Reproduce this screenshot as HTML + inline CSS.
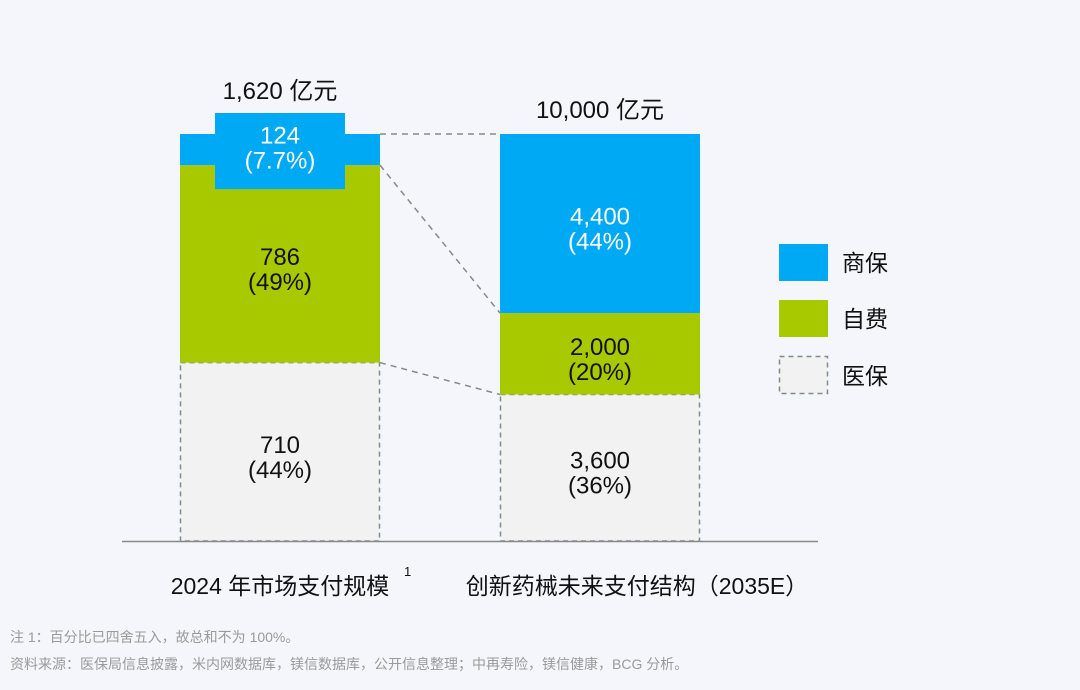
<!DOCTYPE html>
<html><head><meta charset="utf-8">
<style>
html,body{margin:0;padding:0;background:#f4f6fb;}
svg{display:block;font-family:"Liberation Sans","Noto Sans CJK SC",sans-serif;}
</style></head>
<body>
<svg id="chart" width="1080" height="690" viewBox="0 0 1080 690">
  <rect width="1080" height="690" fill="#f4f6fb"/>
  <g id="bars"></g>
  <line x1="122" y1="541.5" x2="818" y2="541.5" stroke="#888" stroke-width="1.5"/>
  <text x="280" y="594" text-anchor="middle" font-size="23" fill="#111">2024 年市场支付规模</text>
  <text x="404" y="576" font-size="13" fill="#111">1</text>
  <text x="637" y="594" text-anchor="middle" font-size="23" fill="#111">创新药械未来支付结构（2035E）</text>
  <g>
    <rect x="779" y="244" width="49" height="37" fill="#00a9f4"/>
    <text x="842" y="271" font-size="23" fill="#111">商保</text>
    <rect x="779" y="300" width="49" height="37" fill="#a8c800"/>
    <text x="842" y="327" font-size="23" fill="#111">自费</text>
    <rect x="779.5" y="356.5" width="48" height="37" fill="#f2f2f2" stroke="#888" stroke-width="1.5" stroke-dasharray="5,4"/>
    <text x="842" y="384" font-size="23" fill="#111">医保</text>
  </g>
  <text x="10" y="642" font-size="14" fill="#9a9a9a">注 1：百分比已四舍五入，故总和不为 100%。</text>
  <text x="10" y="669" font-size="14" fill="#9a9a9a">资料来源：医保局信息披露，米内网数据库，镁信数据库，公开信息整理；中再寿险，镁信健康，BCG 分析。</text>
</svg>
<script>
const categories = ["2024 年市场支付规模", "创新药械未来支付结构（2035E）"];
const totals = ["1,620 亿元", "10,000 亿元"];
const medicalValues = [710, 3600];
const selfPayValues = [786, 2000];
const commercialValues = [124, 4400];
const medicalLabels = ["710", "3,600"];
const medicalPct = ["(44%)", "(36%)"];
const selfPayLabels = ["786", "2,000"];
const selfPayPct = ["(49%)", "(20%)"];
const commercialLabels = ["124", "4,400"];
const commercialPct = ["(7.7%)", "(44%)"];

const NS = "http://www.w3.org/2000/svg";
const g = document.getElementById("bars");
const baseY = 541, barH = 407, barW = 200;
const barX = [180, 500];
function mk(tag, attrs, parent) {
  const e = document.createElementNS(NS, tag);
  for (const k in attrs) e.setAttribute(k, attrs[k]);
  (parent || g).appendChild(e);
  return e;
}
function yScale(i, v) {
  const total = medicalValues[i] + selfPayValues[i] + commercialValues[i];
  return v / total * barH;
}
function label(x, y, t1, t2, color, name) {
  const a = mk("text", {x: x, y: y, "text-anchor": "middle", "font-size": 24, fill: color});
  a.textContent = t1;
  
  
  const b = mk("text", {x: x, y: y + 25, "text-anchor": "middle", "font-size": 24, fill: color});
  b.textContent = t2;
  
  
}
const tops = [];
for (let i = 0; i < 2; i++) {
  const x = barX[i], cx = x + barW / 2;
  const hM = yScale(i, medicalValues[i]);
  const hS = yScale(i, selfPayValues[i]);
  const hC = yScale(i, commercialValues[i]);
  const yM = baseY - hM, yS = yM - hS, yC = yS - hC;
  tops.push({yM: yM, yS: yS, yC: yC});
  const m = mk("rect", {x: x + 0.5, y: yM, width: barW - 1, height: hM, fill: "#f2f2f2", stroke: "#888", "stroke-width": 1.5, "stroke-dasharray": "5,4"});
  
  
  const s = mk("rect", {x: x, y: yS, width: barW, height: hS, fill: "#a8c800"});
  
  
  const c = mk("rect", {x: x, y: yC, width: barW, height: hC, fill: "#00a9f4"});
  
  
  let totalY = yC - 16;
  if (hC < 60) {
    const tab = mk("rect", {x: x + 35, y: yC - 21, width: barW - 70, height: hC + 45, fill: "#00a9f4"});
    
    
    totalY = yC - 35;
    label(cx, yC + hC / 2 - 6, commercialLabels[i], commercialPct[i], "#fff", "label-commercial-" + i);
  } else {
    label(cx, yC + hC / 2 + 1, commercialLabels[i], commercialPct[i], "#fff", "label-commercial-" + i);
  }
  label(cx, yS + hS / 2 + 1, selfPayLabels[i], selfPayPct[i], "#111", "label-selfpay-" + i);
  label(cx, yM + hM / 2 + 1, medicalLabels[i], medicalPct[i], "#111", "label-medical-insurance-" + i);
  const t = mk("text", {x: cx, y: totalY, "text-anchor": "middle", "font-size": 24, fill: "#111"});
  t.textContent = totals[i];
  
  
}
const x1 = barX[0] + barW, x2 = barX[1];
[["yC", "connector-top"], ["yS", "connector-selfpay"], ["yM", "connector-medical"]].forEach(function (p) {
  const l = mk("line", {x1: x1, y1: tops[0][p[0]], x2: x2, y2: tops[1][p[0]], stroke: "#888", "stroke-width": 1.5, "stroke-dasharray": "6,5"});
  
  
});
</script>
</body></html>
